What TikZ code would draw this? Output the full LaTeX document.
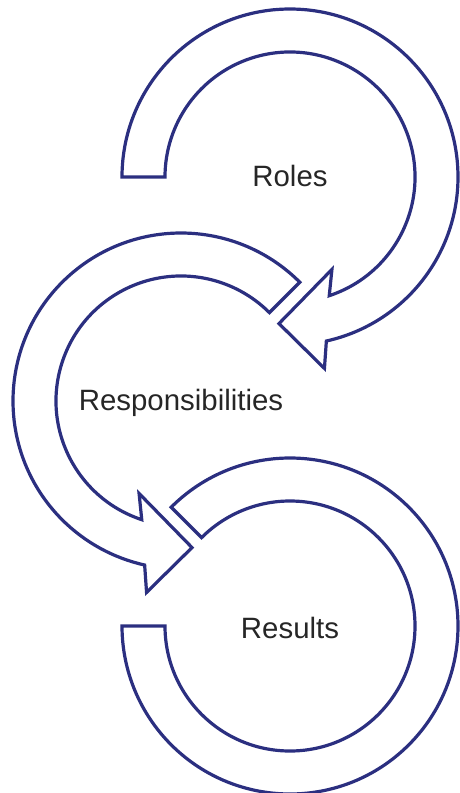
\documentclass[tikz,border=0pt]{standalone}
\usepackage{fontspec}
\setmainfont{Liberation Sans}
\definecolor{arrowblue}{RGB}{43,47,128}

\begin{document}
\begin{tikzpicture}[x=1pt, y=1pt,
        arrowline/.style={draw=arrowblue, line width=3.2pt, line join=miter, fill=white},
        label/.style={font=\fontsize{29.4}{35}\selectfont, text=black!85}]
        \useasboundingbox (0,0) rectangle (459,-793);

        % Roles
        \begin{scope}[shift={(290,-177)}]
        \draw[arrowline] (180:168) arc[start angle=180, end angle=-77.5, radius=168] -- (-79.8:194.5) -- (-94.3:147) -- (-65.6:101.5) -- (-71.7:125) arc[start angle=-71.7, end angle=180, radius=125] -- cycle;
        \node[label] (roles) at (0,1) {Roles};
        \end{scope}

        % Responsibilities
        \begin{scope}[shift={(181,-401)}]
        \draw[arrowline] (45:168) arc[start angle=45, end angle=257.5, radius=168] -- (259.8:194.5) -- (274.3:147) -- (245.6:101.5) -- (251.7:125) arc[start angle=251.7, end angle=45, radius=125] -- cycle;
        \node[label] (resp) at (0,-2) {Responsibilities};
        \end{scope}

        % Results
        \begin{scope}[shift={(290,-626)}]
        \draw[arrowline] (135:168) arc[start angle=135, end angle=-180, radius=168] -- (180:125) arc[start angle=-180, end angle=135, radius=125] -- cycle;
        \node[label] (results) at (0,-2) {Results};
        \end{scope}

\end{tikzpicture}
\end{document}
